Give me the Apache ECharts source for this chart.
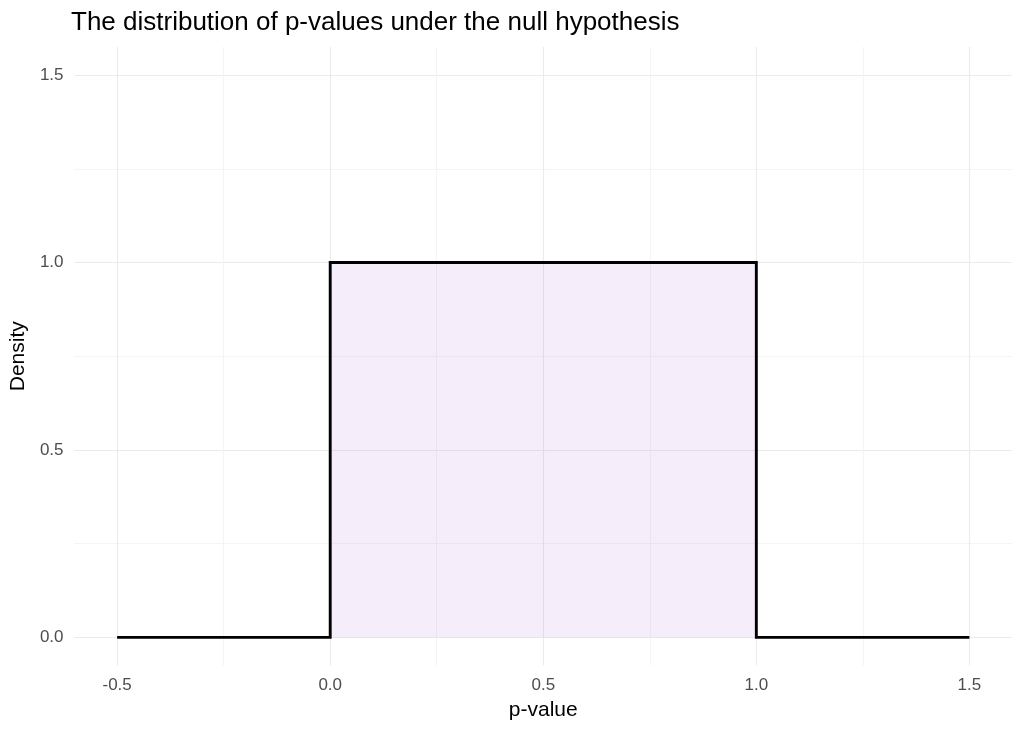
<!DOCTYPE html>
<html>
<head>
<meta charset="utf-8">
<script src="https://cdn.jsdelivr.net/npm/echarts@6/dist/echarts.min.js"></script>
<style>
html,body{margin:0;padding:0;background:#fff;}
#chart{width:1024px;height:731px;}
</style>
</head>
<body>
<div id="chart"></div>
<script>
// Data
const pValues = [-0.5, 0, 0, 1, 1, 1.5];
const density = [0, 0, 1, 1, 0, 0];
const xTicks = [-0.5, 0, 0.5, 1, 1.5];
const xMinorTicks = [-0.25, 0.25, 0.75, 1.25];
const yTicks = [0, 0.5, 1, 1.5];
const yMinorTicks = [0.25, 0.75, 1.25];

const fontFamily = 'Liberation Sans, Arial, sans-serif';
const chart = echarts.init(document.getElementById('chart'), null, {renderer: 'canvas'});

const xBase = {
  type: 'value', min: -0.6, max: 1.6, gridIndex: 0,
  axisLine: {show: false}
};
const yBase = {
  type: 'value', min: -0.075, max: 1.575, gridIndex: 0,
  axisLine: {show: false}
};

chart.setOption({
  animation: false,
  backgroundColor: '#ffffff',
  title: {
    text: 'The distribution of p-values under the null hypothesis',
    left: 66, top: 5,
    textStyle: {fontFamily, fontSize: 26, fontWeight: 'normal', color: '#000000'}
  },
  grid: {left: 73, right: 12, top: 47, bottom: 65.5},
  xAxis: [
    Object.assign({}, xBase, {
      name: 'p-value', nameLocation: 'middle', nameGap: 34,
      nameTextStyle: {fontFamily, fontSize: 21, color: '#000000'},
      axisTick: {show: false, customValues: xTicks},
      axisLabel: {customValues: xTicks, fontFamily, fontSize: 17, color: '#4d4d4d', margin: 11,
        formatter: v => v.toFixed(1)},
      splitLine: {show: true, lineStyle: {color: '#ebebeb', width: 1.1}}
    }),
    Object.assign({}, xBase, {
      show: true,
      axisTick: {show: false, customValues: xMinorTicks},
      axisLabel: {show: false, customValues: xMinorTicks},
      splitLine: {show: true, lineStyle: {color: '#f4f4f4', width: 1}}
    })
  ],
  yAxis: [
    Object.assign({}, yBase, {
      name: 'Density', nameLocation: 'middle', nameGap: 40, nameRotate: 90,
      nameTextStyle: {fontFamily, fontSize: 21, color: '#000000'},
      axisTick: {show: false, customValues: yTicks},
      axisLabel: {customValues: yTicks, fontFamily, fontSize: 17, color: '#4d4d4d', margin: 11,
        formatter: v => v.toFixed(1)},
      splitLine: {show: true, lineStyle: {color: '#ebebeb', width: 1.1}}
    }),
    Object.assign({}, yBase, {
      show: true,
      axisTick: {show: false, customValues: yMinorTicks},
      axisLabel: {show: false, customValues: yMinorTicks},
      splitLine: {show: true, lineStyle: {color: '#f4f4f4', width: 1}}
    })
  ],
  series: [{
    type: 'line',
    xAxisIndex: 0, yAxisIndex: 0,
    data: pValues.map((x, i) => [x, density[i]]),
    showSymbol: false,
    symbol: 'none',
    lineStyle: {color: '#000000', width: 2.9, join: 'miter', cap: 'butt'},
    areaStyle: {color: 'rgba(190,130,230,0.2)', origin: 0},
    z: 5
  }]
});
</script>
</body>
</html>
